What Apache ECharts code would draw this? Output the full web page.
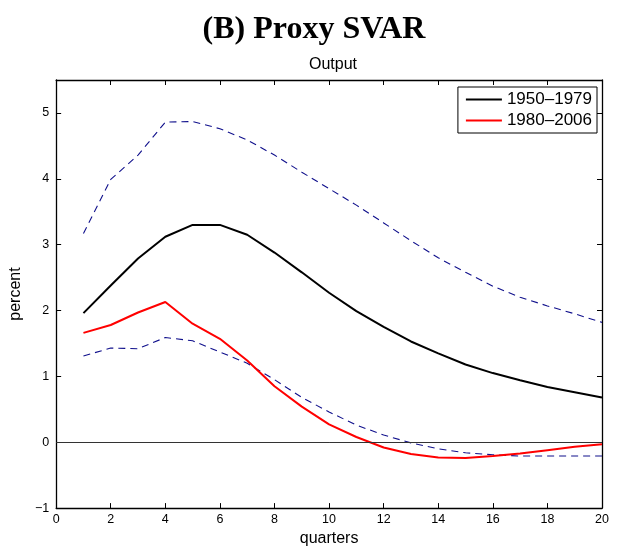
<!DOCTYPE html>
<html><head><meta charset="utf-8">
<script src="https://cdn.jsdelivr.net/npm/echarts@6/dist/echarts.min.js"></script>
<style>html,body{margin:0;padding:0;background:#fff}#c{width:617px;height:552px}</style>
</head><body><div id="c"></div>
<script>
var quarters = [1,2,3,4,5,6,7,8,9,10,11,12,13,14,15,16,17,18,19,20];
var early = [1.96,2.38,2.79,3.12,3.30,3.30,3.15,2.88,2.58,2.27,1.99,1.75,1.53,1.35,1.18,1.05,0.94,0.84,0.76,0.68];
var late = [1.66,1.78,1.97,2.13,1.80,1.57,1.24,0.85,0.54,0.27,0.08,-0.08,-0.18,-0.23,-0.24,-0.21,-0.17,-0.12,-0.07,-0.03];
var upperBand = [3.17,3.99,4.36,4.86,4.87,4.76,4.59,4.36,4.10,3.85,3.60,3.33,3.06,2.80,2.58,2.37,2.20,2.07,1.95,1.82];
var lowerBand = [1.31,1.43,1.42,1.59,1.54,1.37,1.20,0.95,0.68,0.46,0.26,0.11,-0.01,-0.10,-0.16,-0.19,-0.21,-0.21,-0.21,-0.21];
var xTicks = [0,2,4,6,8,10,12,14,16,18,20];
var yTicks = [-1,0,1,2,3,4,5];

function pairs(v){ return quarters.map(function(q,i){ return [q, v[i]]; }); }
var font = 'Liberation Sans, Arial, sans-serif';
var chart = echarts.init(document.getElementById('c'));
var fmtY = function(v){ if (yTicks.indexOf(v) < 0) return ''; return v < 0 ? '\u2212' + Math.abs(v) : String(v); };
var fmtX = function(v){ return xTicks.indexOf(v) < 0 ? '' : String(v); };
var tick = {show: true, inside: true, length: 5, lineStyle: {color: '#000', width: 1}};
var line = {show: true, onZero: false, lineStyle: {color: '#000', width: 1.3}};
chart.setOption({
  animation: false,
  backgroundColor: '#fff',
  title: [
    {text: '(B) Proxy SVAR', left: 309, top: 9, textAlign: 'center',
     textStyle: {fontFamily: 'Liberation Serif, Times New Roman, serif', fontWeight: 'bold', fontSize: 32, color: '#000'}},
    {text: 'Output', left: 328, top: 52, textAlign: 'center',
     textStyle: {fontFamily: font, fontWeight: 'normal', fontSize: 16, color: '#000'}}
  ],
  grid: {left: 54, right: 15, top: 80, bottom: 40, containLabel: false},
  legend: {
    data: ['1950\u20131979', '1980\u20132006'],
    orient: 'vertical', right: 20, top: 87,
    borderColor: '#000', borderWidth: 1, backgroundColor: '#fff',
    padding: [4, 5, 4, 8], itemGap: 4,
    itemWidth: 36, itemHeight: 2, icon: 'rect',
    textStyle: {fontFamily: font, fontSize: 17, color: '#000'}
  },
  xAxis: [
    {type: 'value', min: 0, max: 20, interval: 2, position: 'bottom',
     name: 'quarters', nameLocation: 'middle', nameGap: 22,
     nameTextStyle: {fontFamily: font, fontSize: 16, color: '#000'},
     axisLine: line, axisTick: tick,
     axisLabel: {fontFamily: font, fontSize: 12.5, color: '#000', margin: 5, formatter: fmtX},
     splitLine: {show: false}},
    {type: 'value', min: 0, max: 20, interval: 2, position: 'top',
     axisLine: line, axisTick: tick,
     axisLabel: {show: false}, splitLine: {show: false}}
  ],
  yAxis: [
    {type: 'value', min: -1, max: 5.5, interval: 1, position: 'left',
     name: 'percent', nameLocation: 'middle', nameGap: 26, nameRotate: 90,
     nameTextStyle: {fontFamily: font, fontSize: 16, color: '#000'},
     axisLine: line, axisTick: Object.assign({customValues: yTicks}, tick),
     axisLabel: {fontFamily: font, fontSize: 12.5, color: '#000', margin: 7, formatter: fmtY, customValues: yTicks},
     splitLine: {show: false}},
    {type: 'value', min: -1, max: 5.5, interval: 1, position: 'right',
     axisLine: line, axisTick: Object.assign({customValues: yTicks}, tick),
     axisLabel: {show: false}, splitLine: {show: false}}
  ],
  series: [
    {name: 'upper', type: 'line', data: pairs(upperBand), showSymbol: false, symbol: 'none',
     lineStyle: {color: '#10108c', width: 1.1, type: [7, 5]}, z: 2,
     markLine: {silent: true, symbol: 'none', label: {show: false},
       lineStyle: {color: '#333', width: 1, type: 'solid'}, data: [{yAxis: 0}]}},
    {name: 'lower', type: 'line', data: pairs(lowerBand), showSymbol: false, symbol: 'none',
     lineStyle: {color: '#10108c', width: 1.1, type: [7, 5]}, z: 2},
    {name: '1950\u20131979', type: 'line', data: pairs(early), showSymbol: false, symbol: 'none',
     itemStyle: {color: '#000'}, lineStyle: {color: '#000', width: 2}, z: 3},
    {name: '1980\u20132006', type: 'line', data: pairs(late), showSymbol: false, symbol: 'none',
     itemStyle: {color: '#ff0000'}, lineStyle: {color: '#ff0000', width: 2}, z: 3}
  ]
});
</script></body></html>
